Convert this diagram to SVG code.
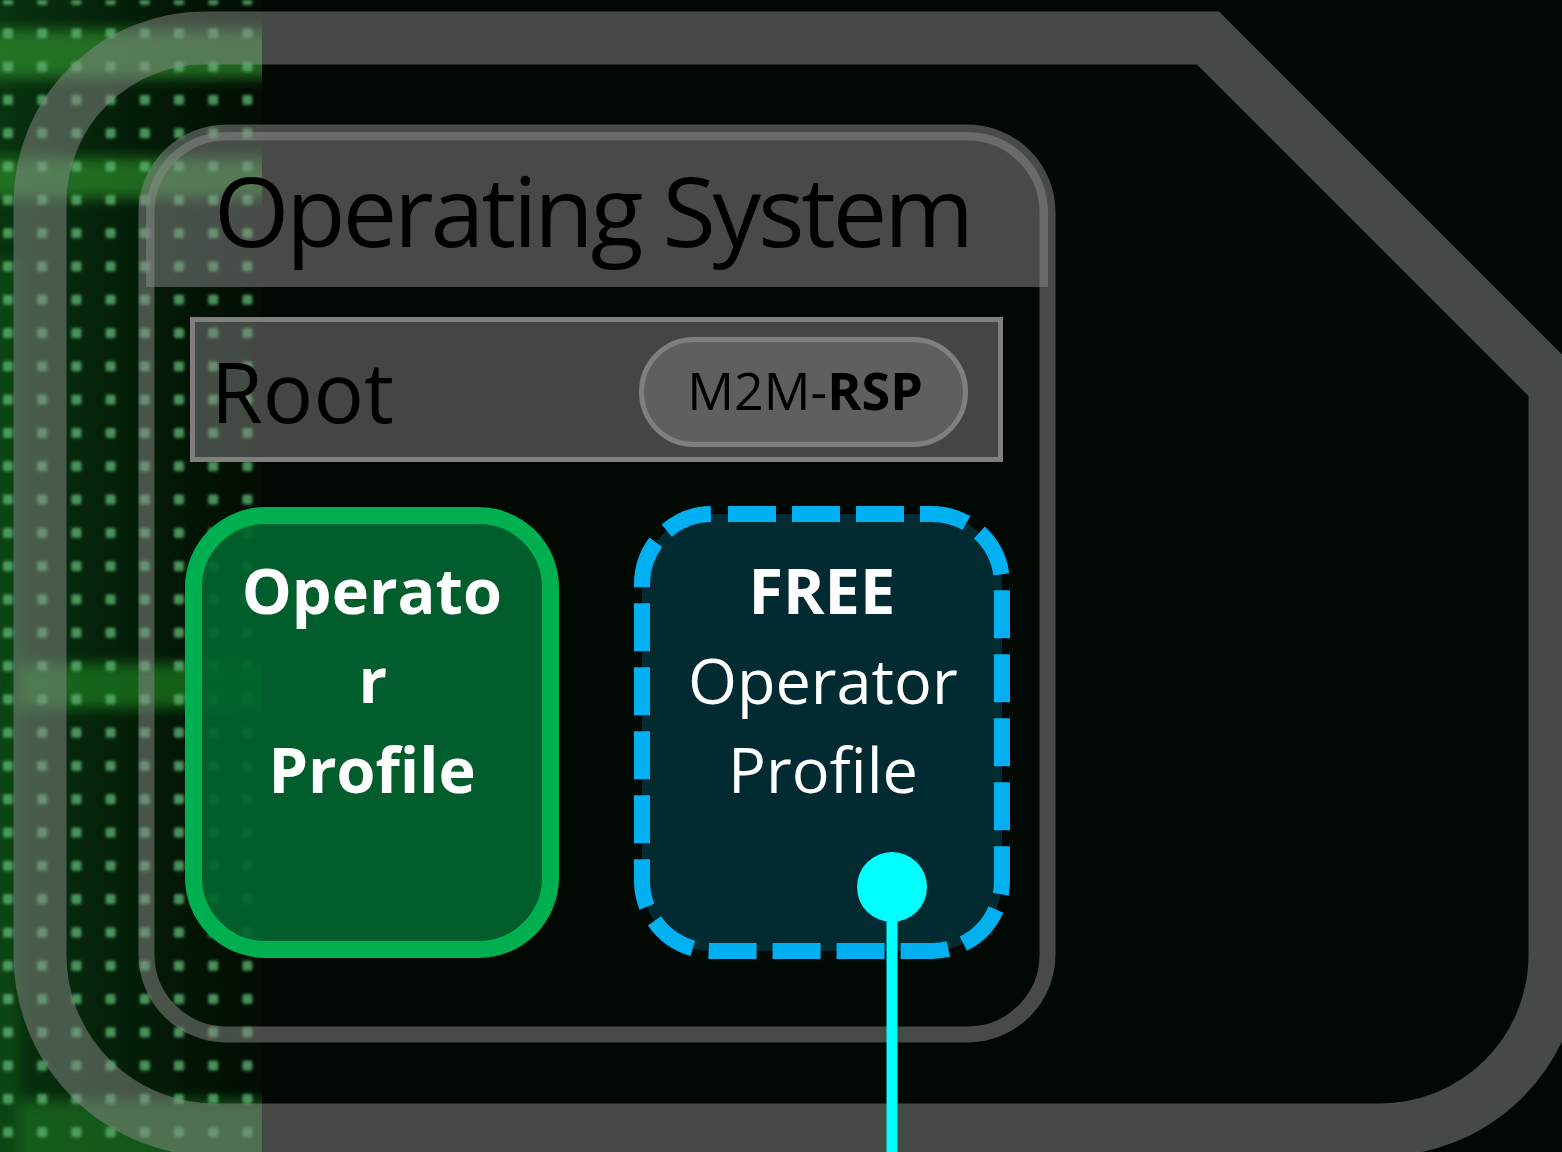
<svg xmlns="http://www.w3.org/2000/svg" width="1562" height="1152" viewBox="0 0 1562 1152">
  <defs>
    <style>
      .label { font-family: "Open Sans", "Noto Sans", "Liberation Sans", sans-serif; }
      .dark { fill: #000000; }
      .light { fill: #ffffff; }
      .bold { font-weight: 700; }
      .chip { fill: #5f5f5f; stroke: #7f7f7f; stroke-width: 5; }
    </style>
    <!-- grid of soft green LEDs for the left strip -->
    <pattern id="dots" x="3" y="-5" width="34.2" height="33.3" patternUnits="userSpaceOnUse">
      <rect x="0" y="0" width="10" height="10" rx="2" fill="#5cb070"/>
    </pattern>
    <linearGradient id="stripBase" x1="0" y1="0" x2="1" y2="0">
      <stop offset="0" stop-color="#093310"/>
      <stop offset="0.55" stop-color="#041c07"/>
      <stop offset="1" stop-color="#020c03"/>
    </linearGradient>
    <filter id="soft" x="-5%" y="-5%" width="110%" height="110%">
      <feGaussianBlur stdDeviation="1.5"/>
    </filter>
    <filter id="glow" x="-20%" y="-50%" width="140%" height="200%">
      <feGaussianBlur stdDeviation="7"/>
    </filter>
    <clipPath id="stripClip">
      <rect x="0" y="0" width="262" height="1152"/>
    </clipPath>
  </defs>

  <!-- backdrop -->
  <rect x="0" y="0" width="1562" height="1152" fill="#020902"/>
  <g id="matrix-strip" clip-path="url(#stripClip)">
    <rect x="0" y="0" width="262" height="1152" fill="url(#stripBase)"/>
    <g filter="url(#glow)" opacity="0.7">
      <rect x="-20" y="30" width="300" height="48" fill="#2f8f2f"/>
      <rect x="-20" y="158" width="300" height="40" fill="#2a8a2a"/>
      <rect x="-20" y="664" width="300" height="44" fill="#1f7f22"/>
      <rect x="-20" y="1100" width="300" height="70" fill="#1f6f22"/>
      <rect x="-20" y="260" width="40" height="900" fill="#0d4d12"/>
    </g>
    <rect x="0" y="0" width="262" height="1152" fill="url(#dots)" filter="url(#soft)" opacity="0.8"/>
  </g>

  <!-- SIM card outline with clipped corner -->
  <g id="sim-card">
    <path d="M 205,38 L 1208,38 L 1555,385 L 1555,955 A 175 175 0 0 1 1380,1130 L 215,1130 A 175 175 0 0 1 40,955 L 40,203 A 165 165 0 0 1 205,38 Z"
          fill="none" stroke="#8a8c8a" stroke-opacity="0.5" stroke-width="53" stroke-linejoin="miter"/>
  </g>

  <!-- Operating system panel -->
  <g id="operating-system">
    <path d="M 146,287 L 146,212 A 80 80 0 0 1 226,132 L 968,132 A 80 80 0 0 1 1048,212 L 1048,287 Z"
          fill="#8c8c8c" fill-opacity="0.5"/>
    <rect x="146.5" y="132.5" width="901" height="902" rx="80" ry="80"
          fill="none" stroke="#8c8c8c" stroke-opacity="0.5" stroke-width="16"/>
    <text class="label dark" x="214" y="247" font-size="97" textLength="760" lengthAdjust="spacing">Operating System</text>
  </g>

  <!-- Root security domain bar -->
  <g id="root">
    <rect x="192.5" y="319.5" width="808" height="140" fill="#8a8a8a" fill-opacity="0.48" stroke="#7f7f7f" stroke-width="5"/>
    <text class="label dark" x="211" y="423" font-size="84">Root</text>
  </g>

  <!-- M2M-RSP chip -->
  <g id="m2m-rsp">
    <rect class="chip" x="641.5" y="339.5" width="324" height="105" rx="52.5" ry="52.5"/>
    <text class="label dark" x="805" y="410" font-size="52" text-anchor="middle">M2M-<tspan class="bold">RSP</tspan></text>
  </g>

  <!-- active operator profile -->
  <g id="operator-profile">
    <rect x="193.5" y="515.5" width="357" height="434" rx="72" ry="72"
          fill="#01652f" fill-opacity="0.92" stroke="#00b050" stroke-width="17"/>
    <text class="label light bold" font-size="63" text-anchor="middle">
      <tspan x="380" y="614">Operato</tspan>
      <tspan x="381" y="703">r</tspan>
      <tspan x="372" y="793">Profile</tspan>
    </text>
  </g>

  <!-- free slot for another operator profile -->
  <g id="free-operator-profile">
    <rect x="642" y="514" width="360" height="437" rx="70" ry="70"
          fill="#012a31" stroke="#00b0f0" stroke-width="16"
          stroke-dasharray="48 16" stroke-dashoffset="48"/>
    <text class="label light" font-size="63" text-anchor="middle">
      <tspan class="bold" x="830" y="614">FREE</tspan>
      <tspan x="831" y="704">Operator</tspan>
      <tspan x="823" y="793">Profile</tspan>
    </text>
  </g>

  <!-- download link into the free slot -->
  <g id="connectors">
    <line x1="892" y1="900" x2="892" y2="1152" stroke="#00ffff" stroke-width="11"/>
    <circle cx="892" cy="887" r="35" fill="#00ffff"/>
  </g>
</svg>
